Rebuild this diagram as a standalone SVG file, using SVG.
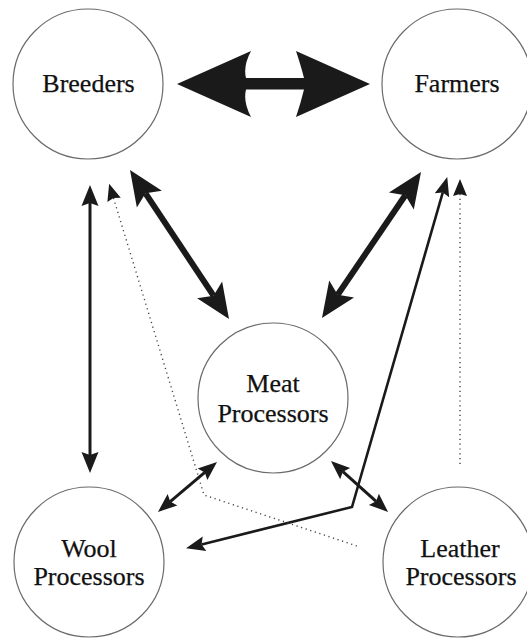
<svg xmlns="http://www.w3.org/2000/svg" width="527" height="639" viewBox="0 0 527 639">
<style>
.node circle{fill:#fff;stroke:#6a6a6a;stroke-width:1.2}
.node text{font-family:"Liberation Serif","Times New Roman",serif;font-size:26px;fill:#111;stroke:#111;stroke-width:0.25;text-anchor:middle}
.thick{stroke:#1a1a1a;stroke-width:6;fill:none}
.med{stroke:#1a1a1a;stroke-width:3;fill:none}
.thin{stroke:#1a1a1a;stroke-width:2.6;fill:none;stroke-linejoin:miter}
.dot{stroke:#444;stroke-width:1.4;stroke-dasharray:1.2 3.6;fill:none}
</style>
<defs>
<marker id="hL" markerUnits="userSpaceOnUse" viewBox="-10 -18 42 36" markerWidth="42" markerHeight="36" refX="0" refY="0" orient="auto-start-reverse">
<path d="M28,0 L-7,-15 L0,0 L-7,15 Z" fill="#1a1a1a"/>
</marker>
<marker id="hM" markerUnits="userSpaceOnUse" viewBox="-6 -10 26 20" markerWidth="26" markerHeight="20" refX="0" refY="0" orient="auto-start-reverse">
<path d="M18,0 L-3,-8.5 L0,0 L-3,8.5 Z" fill="#1a1a1a"/>
</marker>
<marker id="hS" markerUnits="userSpaceOnUse" viewBox="-6 -10 26 20" markerWidth="26" markerHeight="20" refX="0" refY="0" orient="auto-start-reverse">
<path d="M16,0 L-3,-7.5 L0,0 L-3,7.5 Z" fill="#1a1a1a"/>
</marker>
<marker id="hD" markerUnits="userSpaceOnUse" viewBox="-6 -10 26 20" markerWidth="26" markerHeight="20" refX="0" refY="0" orient="auto-start-reverse">
<path d="M15,0 L-2,-7 L0,0 L-2,7 Z" fill="#1a1a1a"/>
</marker>
</defs>
<g id="connectors">
<path id="breeders-farmers" d="M177,84 L251,51 Q243,66 246,78 L304,78 Q301,66 296,51 L370,84 L296,117 Q301,102 304,89.5 L246,89.5 Q243,102 251,117 Z" fill="#1a1a1a"/>
<line class="thick" x1="145.5" y1="193.3" x2="213.5" y2="295.7" marker-start="url(#hL)" marker-end="url(#hL)"/>
<line class="thick" x1="405.3" y1="195.2" x2="337.7" y2="294.8" marker-start="url(#hL)" marker-end="url(#hL)"/>
<line class="med" x1="90" y1="203" x2="90" y2="455" marker-start="url(#hM)" marker-end="url(#hM)"/>
<line class="med" x1="170.2" y1="501.6" x2="204.8" y2="472.4" marker-start="url(#hS)" marker-end="url(#hS)"/>
<line class="med" x1="342.9" y1="471.7" x2="376.1" y2="501.3" marker-start="url(#hS)" marker-end="url(#hS)"/>
<polyline class="thin" points="442.8,192.4 352,507 201.6,544.4" marker-start="url(#hS)" marker-end="url(#hS)"/>
<polyline class="dot" points="113.5,198 204,495 360,547" marker-start="url(#hD)"/>
<line class="dot" x1="460" y1="194" x2="460" y2="467" marker-start="url(#hD)"/>
</g>
<g id="breeders" class="node">
<circle cx="88" cy="84" r="75"/>
<text x="88.5" y="92">Breeders</text>
</g>
<g id="farmers" class="node">
<circle cx="457" cy="84" r="75"/>
<text x="457" y="92">Farmers</text>
</g>
<g id="meat" class="node">
<circle cx="273" cy="398" r="75"/>
<text x="273" y="392">Meat</text>
<text x="273" y="422">Processors</text>
</g>
<g id="wool" class="node">
<circle cx="89" cy="562" r="75"/>
<text x="89" y="557">Wool</text>
<text x="89" y="585">Processors</text>
</g>
<g id="leather" class="node">
<circle cx="458" cy="562" r="75"/>
<text x="460" y="557">Leather</text>
<text x="461" y="585">Processors</text>
</g>
</svg>
